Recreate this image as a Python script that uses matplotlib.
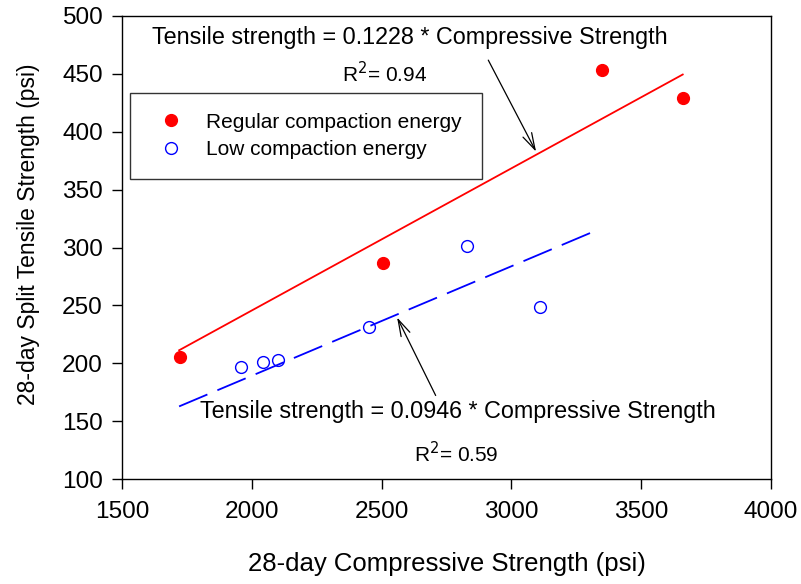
import matplotlib
matplotlib.use("Agg")
import matplotlib.pyplot as plt
import numpy as np

plt.rcParams['font.family'] = ['Liberation Sans', 'DejaVu Sans']

# Regular compaction energy specimens
reg_comp = [1725, 2505, 3350, 3660]
reg_tens = [205, 287, 453, 429]

# Low compaction energy specimens
low_comp = [1960, 2045, 2100, 2450, 2830, 3110]
low_tens = [197, 201, 203, 231, 301, 249]

# Regression slopes (fit through origin)
reg_slope = 0.1228
low_slope = 0.0946
reg_fit_range = [1720, 3660]
low_fit_range = [1720, 3305]

xticks = [1500, 2000, 2500, 3000, 3500, 4000]
yticks = [100, 150, 200, 250, 300, 350, 400, 450, 500]

W, H = 801, 584
fig = plt.figure(figsize=(W / 100, H / 100), dpi=100)
ax = fig.add_axes([122 / W, 1 - 479 / H, 649 / W, 463 / H])

xr = np.array(reg_fit_range)
ax.plot(xr, reg_slope * xr, color='red', lw=1.3)
xl = np.array(low_fit_range)
ax.plot(xl, low_slope * xl, color='blue', lw=1.3, dashes=(17, 6))

ax.plot(reg_comp, reg_tens, 'o', color='red', ms=8.5, mec='red',
        label='Regular compaction energy', zorder=3)
ax.plot(low_comp, low_tens, 'o', mfc='none', mec='blue', mew=1.0, ms=8.5,
        label='Low compaction energy', zorder=3)

ax.set_xlim(1500, 4000)
ax.set_ylim(100, 500)
ax.set_xticks(xticks)
ax.set_yticks(yticks)
ax.tick_params(direction='out', length=7, width=1, labelsize=17.6)
ax.tick_params(axis='x', pad=9)
ax.tick_params(axis='y', pad=6.7)
for s in ax.spines.values():
    s.set_linewidth(1)

ax.set_xlabel('28-day Compressive Strength (psi)', fontsize=18.5)
ax.xaxis.set_label_coords(0.5, -0.158)
ax.set_ylabel('28-day Split Tensile Strength (psi)', fontsize=16.5)
ax.yaxis.set_label_coords(-0.126, 0.529)

# Equation annotations
arrow = dict(arrowstyle='->,head_length=1.2,head_width=0.35', color='black', lw=0.9)
ax.annotate('', xy=(3100, reg_slope * 3100), xytext=(2906, 464), arrowprops=arrow)
ax.text(2607, 481, 'Tensile strength = 0.1228 * Compressive Strength',
        ha='center', va='center', fontsize=16.8)
ax.text(2513, 450, r'R$^{2}$= 0.94', ha='center', va='center', fontsize=15)

ax.annotate('', xy=(2555, low_slope * 2555), xytext=(2713, 170), arrowprops=arrow)
ax.text(2794, 158, 'Tensile strength = 0.0946 * Compressive Strength',
        ha='center', va='center', fontsize=16.8)
ax.text(2787, 122, r'R$^{2}$= 0.59', ha='center', va='center', fontsize=15)

leg = ax.legend(loc='upper left', bbox_to_anchor=(0.0123, 0.8337), borderaxespad=0,
                fontsize=15, frameon=True, fancybox=False, edgecolor='black',
                handletextpad=0.72, borderpad=0.95, labelspacing=0.41, handlelength=2.0)
leg.get_frame().set_linewidth(1)

fig.savefig('out.png', dpi=100)
